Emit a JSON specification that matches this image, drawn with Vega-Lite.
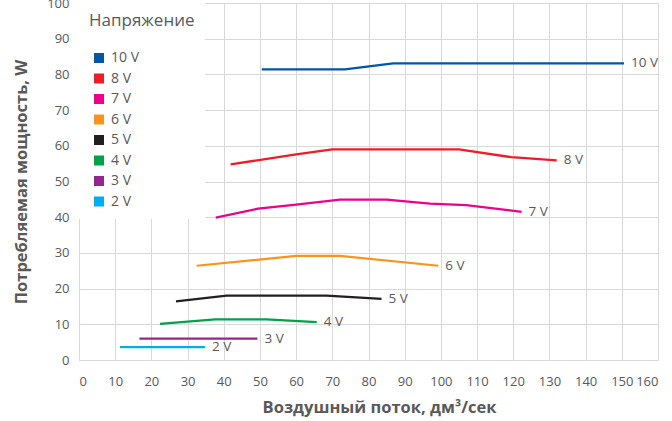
{
  "$schema": "https://vega.github.io/schema/vega-lite/v6.json",
  "width": 579,
  "height": 357,
  "autosize": {"type": "none"},
  "padding": {"left": 79, "top": 3, "right": 14, "bottom": 61},
  "background": "white",
  "config": {
    "font": "Open Sans",
    "view": {"stroke": null},
    "axis": {
      "gridColor": "#d9d9d9",
      "gridWidth": 1,
      "domainColor": "#d9d9d9",
      "ticks": false,
      "tickSize": 0,
      "labelColor": "#595959",
      "labelFontSize": 13,
      "titleColor": "#595959",
      "titleFontSize": 16.5,
      "titleFontWeight": "bold"
    },
    "axisX": {"values": [0,10,20,30,40,50,60,70,80,90,100,110,120,130,140,150,160], "labelPadding": 15, "titlePadding": 11, "titleX": 300},
    "axisY": {"values": [0,10,20,30,40,50,60,70,80,90,100], "labelPadding": 10, "titlePadding": 17}
  },
  "data": {
    "values": [
      {"series": "10 V", "x": 50.5, "y": 81.4},
      {"series": "10 V", "x": 73.5, "y": 81.4},
      {"series": "10 V", "x": 86.8, "y": 83.1},
      {"series": "10 V", "x": 150.6, "y": 83.1},
      {"series": "8 V", "x": 41.9, "y": 54.8},
      {"series": "8 V", "x": 60, "y": 57.6},
      {"series": "8 V", "x": 70, "y": 59.0},
      {"series": "8 V", "x": 105, "y": 59.0},
      {"series": "8 V", "x": 119.5, "y": 56.8},
      {"series": "8 V", "x": 132, "y": 55.9},
      {"series": "7 V", "x": 37.8, "y": 39.9},
      {"series": "7 V", "x": 49.5, "y": 42.4},
      {"series": "7 V", "x": 60, "y": 43.5},
      {"series": "7 V", "x": 72.1, "y": 44.9},
      {"series": "7 V", "x": 85, "y": 44.9},
      {"series": "7 V", "x": 97, "y": 43.8},
      {"series": "7 V", "x": 107, "y": 43.4},
      {"series": "7 V", "x": 122.3, "y": 41.5},
      {"series": "6 V", "x": 32.5, "y": 26.4},
      {"series": "6 V", "x": 60.1, "y": 29.2},
      {"series": "6 V", "x": 72.1, "y": 29.2},
      {"series": "6 V", "x": 99.3, "y": 26.4},
      {"series": "5 V", "x": 26.8, "y": 16.4},
      {"series": "5 V", "x": 40.8, "y": 18.0},
      {"series": "5 V", "x": 68.4, "y": 18.0},
      {"series": "5 V", "x": 83.6, "y": 17.1},
      {"series": "4 V", "x": 22.4, "y": 10.1},
      {"series": "4 V", "x": 37.6, "y": 11.4},
      {"series": "4 V", "x": 51.8, "y": 11.4},
      {"series": "4 V", "x": 65.7, "y": 10.6},
      {"series": "3 V", "x": 16.7, "y": 6.0},
      {"series": "3 V", "x": 49.3, "y": 6.0},
      {"series": "2 V", "x": 11.3, "y": 3.6},
      {"series": "2 V", "x": 34.8, "y": 3.6}
    ]
  },
  "layer": [
    {
      "mark": {"type": "line", "strokeWidth": 2.25},
      "encoding": {
        "x": {
          "field": "x", "type": "quantitative",
          "scale": {"domain": [0, 160], "nice": false},
          "axis": {"title": "Воздушный поток, дм³/сек"}
        },
        "y": {
          "field": "y", "type": "quantitative",
          "scale": {"domain": [0, 100], "nice": false},
          "axis": {"title": "Потребляемая мощность, W"}
        },
        "color": {
          "field": "series", "type": "nominal",
          "scale": {
            "domain": ["10 V", "8 V", "7 V", "6 V", "5 V", "4 V", "3 V", "2 V"],
            "range": ["#0057a8", "#ee1c25", "#ec008c", "#f7941d", "#231f20", "#00a14b", "#92278f", "#00aeef"]
          },
          "legend": {
            "orient": "none",
            "legendX": 0,
            "legendY": 0,
            "title": "Напряжение",
            "titleFontSize": 17,
            "titleFontWeight": "normal",
            "titleColor": "#595959",
            "titlePadding": 21,
            "fillColor": "white",
            "padding": 10,
            "symbolType": "square",
            "symbolSize": 100,
            "symbolStrokeWidth": 0,
            "symbolOffset": 3,
            "labelFontSize": 14,
            "labelColor": "#595959",
            "labelOffset": 5,
            "rowPadding": 6.5,
            "encode": {
              "symbols": {"update": {"fill": {"scale": "color", "field": "value"}, "strokeWidth": {"value": 0}}}
            }
          }
        },
        "order": {"field": "x", "type": "quantitative"}
      }
    },
    {
      "transform": [
        {"aggregate": [{"op": "argmax", "field": "x", "as": "last"}], "groupby": ["series"]}
      ],
      "mark": {"type": "text", "align": "left", "baseline": "middle", "dx": 7, "fontSize": 13.5, "color": "#595959"},
      "encoding": {
        "x": {"field": "last.x", "type": "quantitative", "axis": {"title": "Воздушный поток, дм³/сек"}},
        "y": {"field": "last.y", "type": "quantitative", "axis": {"title": "Потребляемая мощность, W"}},
        "text": {"field": "series", "type": "nominal"}
      }
    }
  ]
}
